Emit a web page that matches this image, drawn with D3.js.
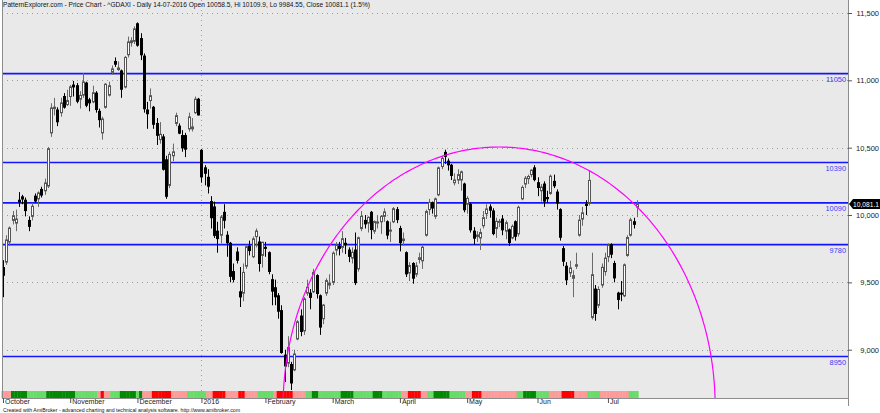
<!DOCTYPE html>
<html><head><meta charset="utf-8">
<script src="https://cdn.jsdelivr.net/npm/d3@7/dist/d3.min.js"></script>
<style>body{margin:0;background:#fff}svg{display:block;font-family:"Liberation Sans",Arial,sans-serif}</style>
</head><body><svg id="c" width="880" height="413"></svg>
<script>
// ---- data ----
const dates = [
"2015-10-02","2015-10-05","2015-10-06","2015-10-07","2015-10-08","2015-10-09","2015-10-12","2015-10-13","2015-10-14","2015-10-15","2015-10-16","2015-10-19","2015-10-20","2015-10-21","2015-10-22","2015-10-23","2015-10-26","2015-10-27","2015-10-28","2015-10-29","2015-10-30",
"2015-11-02","2015-11-03","2015-11-04","2015-11-05","2015-11-06","2015-11-09","2015-11-10","2015-11-11","2015-11-12","2015-11-13","2015-11-16","2015-11-17","2015-11-18","2015-11-19","2015-11-20","2015-11-23","2015-11-24","2015-11-25","2015-11-26","2015-11-27","2015-11-30",
"2015-12-01","2015-12-02","2015-12-03","2015-12-04","2015-12-07","2015-12-08","2015-12-09","2015-12-10","2015-12-11","2015-12-14","2015-12-15","2015-12-16","2015-12-17","2015-12-18","2015-12-21","2015-12-22","2015-12-23","2015-12-28","2015-12-29","2015-12-30",
"2016-01-04","2016-01-05","2016-01-06","2016-01-07","2016-01-08","2016-01-11","2016-01-12","2016-01-13","2016-01-14","2016-01-15","2016-01-18","2016-01-19","2016-01-20","2016-01-21","2016-01-22","2016-01-25","2016-01-26","2016-01-27","2016-01-28","2016-01-29",
"2016-02-01","2016-02-02","2016-02-03","2016-02-04","2016-02-05","2016-02-08","2016-02-09","2016-02-10","2016-02-11","2016-02-12","2016-02-15","2016-02-16","2016-02-17","2016-02-18","2016-02-19","2016-02-22","2016-02-23","2016-02-24","2016-02-25","2016-02-26","2016-02-29",
"2016-03-01","2016-03-02","2016-03-03","2016-03-04","2016-03-07","2016-03-08","2016-03-09","2016-03-10","2016-03-11","2016-03-14","2016-03-15","2016-03-16","2016-03-17","2016-03-18","2016-03-21","2016-03-22","2016-03-23","2016-03-24","2016-03-29","2016-03-30","2016-03-31",
"2016-04-01","2016-04-04","2016-04-05","2016-04-06","2016-04-07","2016-04-08","2016-04-11","2016-04-12","2016-04-13","2016-04-14","2016-04-15","2016-04-18","2016-04-19","2016-04-20","2016-04-21","2016-04-22","2016-04-25","2016-04-26","2016-04-27","2016-04-28","2016-04-29",
"2016-05-02","2016-05-03","2016-05-04","2016-05-05","2016-05-06","2016-05-09","2016-05-10","2016-05-11","2016-05-12","2016-05-13","2016-05-16","2016-05-17","2016-05-18","2016-05-19","2016-05-20","2016-05-23","2016-05-24","2016-05-25","2016-05-26","2016-05-27","2016-05-30","2016-05-31",
"2016-06-01","2016-06-02","2016-06-03","2016-06-06","2016-06-07","2016-06-08","2016-06-09","2016-06-10","2016-06-13","2016-06-14","2016-06-15","2016-06-16","2016-06-17","2016-06-20","2016-06-21","2016-06-22","2016-06-23","2016-06-24","2016-06-27","2016-06-28","2016-06-29","2016-06-30",
"2016-07-01","2016-07-04","2016-07-05","2016-07-06","2016-07-07","2016-07-08","2016-07-11","2016-07-12","2016-07-13","2016-07-14"];

const openP = [9610,9650,9800,9960,9940,10110,10135,10110,9960,9990,10140,10120,10190,10180,10215,10610,10790,10780,10760,10880,10820,
10880,10965,10960,10860,10890,10980,10855,10840,10905,10770,10610,10800,10890,11060,11140,11080,11070,10950,11190,11280,11290,
11420,11310,11180,10780,10850,10800,10680,10560,10580,10410,10220,10440,10680,10660,10590,10590,10640,10640,10760,10860,
10480,10350,10280,10100,10060,9880,9850,10020,9850,9790,9580,9725,9430,9420,9620,9770,9690,9840,9800,9700,
9760,9720,9520,9460,9400,9290,8960,8900,8890,8850,9080,9250,9140,9420,9420,9430,9550,9400,9230,9420,9480,
9500,9740,9770,9760,9790,9740,9680,9740,9600,9900,9960,9940,10020,9880,9940,9950,9990,9950,9880,9950,10040,
9900,9810,9720,9570,9640,9560,9670,9660,9850,10040,10090,9990,10150,10360,10465,10400,10370,10240,10260,10260,10230,
10080,10080,9880,9840,9830,9920,10010,10060,10030,9900,9945,9970,9880,9890,9830,9950,9860,10120,10230,10270,10300,10350,
10240,10180,10230,10130,10160,10250,10170,10040,9750,9620,9570,9530,9620,9850,9970,10080,10090,9240,9450,9330,9480,9580,
9690,9780,9640,9420,9420,9400,9700,9850,9950,10058.5];

const highP = [9665,9850,9915,10030,10040,10170,10150,10130,9990,10090,10160,10175,10210,10270,10505,10830,10870,10800,10870,10905,10930,
10965,10995,10980,10920,11055,10990,10870,10960,10920,10790,10730,10980,10990,11110,11170,11140,11080,11180,11325,11320,11400,
11430,11350,11200,10840,10940,10810,10720,10690,10600,10440,10470,10530,10760,10680,10630,10610,10760,10720,10880,10870,
10490,10370,10340,10140,10100,9950,10000,10080,9880,9800,9640,9760,9614,9640,9780,9810,9840,9900,9840,9800,
9800,9730,9560,9520,9420,9330,9000,9100,8910,9000,9220,9300,9390,9520,9450,9600,9560,9410,9340,9530,9560,
9730,9800,9800,9880,9830,9760,9760,9870,9840,10030,10000,9990,10030,9960,10000,10000,10050,9960,9950,10060,10060,
9920,9870,9730,9650,9650,9650,9720,9770,10040,10120,10100,10130,10360,10440,10485,10420,10380,10310,10340,10330,10240,
10140,10090,9910,9880,9900,10030,10080,10080,10050,9980,9970,10000,9960,9900,9930,9960,10070,10220,10290,10300,10340,10370,
10280,10230,10250,10180,10300,10300,10190,10050,9770,9650,9660,9590,9720,10000,10060,10110,10330,9720,9480,9470,9640,9720,
9790,9790,9660,9430,9510,9640,9850,9980,9980,10109.9];

const lowP = [9390,9630,9770,9930,9880,10060,10080,9990,9880,9960,10090,10060,10130,10150,10200,10580,10740,10660,10730,10790,10810,
10810,10880,10830,10790,10870,10800,10770,10830,10760,10650,10560,10790,10880,11040,11100,11070,10870,10940,11170,11250,11270,
11250,11150,10760,10640,10790,10640,10520,10530,10330,10120,10200,10400,10660,10600,10470,10430,10620,10620,10750,10740,
10240,10220,10160,9900,9830,9720,9790,9900,9690,9500,9500,9640,9317,9360,9600,9700,9680,9760,9580,9610,
9690,9560,9330,9330,9230,8970,8760,8870,8700,8840,9070,9100,9110,9400,9300,9420,9380,9110,9190,9400,9450,
9480,9700,9700,9720,9710,9650,9640,9480,9580,9880,9900,9870,9820,9860,9900,9860,9950,9820,9800,9940,9940,
9730,9770,9540,9510,9490,9540,9640,9600,9840,10000,10010,9970,10140,10340,10380,10330,10260,10220,10230,10180,10020,
10010,9870,9780,9800,9740,9900,9970,9980,9850,9830,9910,9850,9820,9770,9820,9810,9840,10110,10200,10230,10280,10250,
10140,10100,10060,10090,10150,10200,10040,9810,9620,9480,9540,9390,9600,9840,9920,10000,10070,9225,9215,9310,9460,9550,
9650,9680,9500,9300,9360,9390,9690,9840,9900,9984.55];

const closeP = [9553,9815,9903,9995,9970,10097,10119,10033,9916,10065,10104,10164,10148,10238,10492,10795,10801,10692,10832,10801,10850,
10951,10951,10845,10888,10988,10815,10833,10908,10783,10708,10713,10971,10960,11085,11120,11092,10934,11170,11285,11294,11382,
11261,11190,10789,10752,10886,10674,10592,10599,10340,10139,10450,10469,10738,10608,10498,10489,10728,10654,10860,10743,
10283,10310,10214,9980,9849,9825,9985,9961,9794,9545,9522,9664,9392,9574,9765,9736,9823,9881,9640,9798,
9758,9581,9435,9393,9286,8979,8879,9017,8753,8968,9207,9135,9377,9464,9388,9574,9417,9168,9331,9513,9495,
9717,9777,9752,9824,9779,9693,9723,9498,9831,9990,9934,9983,9892,9951,9949,9990,10023,9851,9888,10047,9966,
9795,9822,9563,9625,9531,9622,9683,9761,10026,10094,10052,10120,10350,10421,10436,10373,10294,10260,10300,10321,10039,
10123,9890,9828,9852,9870,9980,10045,10036,9862,9953,9953,9890,9943,9796,9916,9842,10057,10205,10273,10286,10333,10263,
10204,10208,10103,10121,10288,10217,10089,9835,9657,9519,9607,9550,9631,9962,10016,10071,10257,9557,9269,9447,9612,9680,
9776,9709,9533,9373,9419,9630,9833,9964,9931,10081.1];

// colour strip under the price (runs of [state, number of bars])
const stripRuns = [["lr",3],["dg",5],["lg",6],["dg",9],["lg",7],["lr",1],["r",1],["lr",2],["lg",3],["dg",5],
["lg",1],["dg",1],["lr",3],["r",6],["lr",5],["lg",6],["lr",2],["r",4],["lr",4],["r",2],
["lr",4],["lg",5],["lr",1],["r",5],["lr",4],["lg",2],["dg",2],["lg",7],["dg",4],["lg",6],
["dg",3],["lg",6],["lr",2],["r",4],["lr",2],["lg",2],["dg",5],["lg",5],["lr",2],["r",3],
["lr",11],["lg",2],["dg",4],["lg",4],["lr",4],["r",4],["lr",4],["lg",4],["lr",9],["lg",3]];

const levelLines = [11050, 10390, 10090, 9780, 8950];
const priceTicks = [9000, 9500, 10000, 10500, 11000, 11500];
const monthTicks = [["2015-10-02","October"],["2015-11-02","November"],["2015-12-01","December"],["2016-01-04","2016"],
["2016-02-01","February"],["2016-03-01","March"],["2016-04-01","April"],["2016-05-02","May"],["2016-06-01","Jun"],["2016-07-01","Jul"]];
const yearBreak = "2016-01-04";
// arc (ellipse) in data units: centre bar index, centre price, radius in bars, radius in points
const arcCenterBar = 155, arcCenterPrice = 8575, arcRadiusBars = 67.5, arcRadiusPts = 1930;
const totalSlots = 264;
const titleText = "PatternExplorer.com - Price Chart - ^GDAXI - Daily 14-07-2016 Open 10058.5, Hi 10109.9, Lo 9984.55, Close 10081.1 (1.5%)";
const footerText = "Created with AmiBroker - advanced charting and technical analysis software. http://www.amibroker.com";

// ---- drawing ----
const svg = d3.select("#c");
const L = 2, R = 848, T = 0, B = 398;
const x = d3.scaleLinear().domain([0, totalSlots]).range([3, 848]);
const y = d3.scaleLinear().domain([9000, 11500]).range([349.7, 13]);
const step = x(1) - x(0);
const stripColor = {lr:"#ff9a9a", r:"#ff0000", dg:"#008a00", lg:"#66dd66"};

svg.append("rect").attr("x",L).attr("y",T).attr("width",R-L).attr("height",B-T).attr("fill","#e9e9e9");
svg.append("defs").append("clipPath").attr("id","clip").append("rect")
  .attr("x",L).attr("y",T).attr("width",R-L).attr("height",B-T);

// grid
const grid = svg.append("g");
grid.selectAll("line.h").data(priceTicks).join("line")
  .attr("x1",L).attr("x2",R).attr("y1",d=>Math.round(y(d))+0.5).attr("y2",d=>Math.round(y(d))+0.5)
  .attr("stroke","#9a9a9a").attr("stroke-dasharray","1,4");
const yb = dates.indexOf(yearBreak);
grid.append("line").attr("x1",Math.round(x(yb))+0.5).attr("x2",Math.round(x(yb))+0.5).attr("y1",T).attr("y2",B)
  .attr("stroke","#9a9a9a").attr("stroke-dasharray","1,4");

// colour strip
const stripBars = [];
stripRuns.forEach(([s,n]) => { for (let k=0;k<n;k++) stripBars.push(s); });
svg.append("g").selectAll("rect").data(stripBars).join("rect")
  .attr("x",(d,i)=>x(i)-step/2).attr("width",step+0.3).attr("y",391).attr("height",B-391)
  .attr("fill",d=>stripColor[d]);

// level lines
const lv = svg.append("g");
lv.selectAll("line").data(levelLines).join("line")
  .attr("x1",L).attr("x2",R).attr("y1",d=>y(d)).attr("y2",d=>y(d))
  .attr("stroke","#1414ff").attr("stroke-width",1.6);
lv.selectAll("text").data(levelLines).join("text")
  .attr("x",R-2).attr("y",d=>y(d)+8.5).attr("text-anchor","end")
  .attr("font-size","7.4px").attr("fill","#3a3aff").text(d=>d);

// candles
const bars = d3.range(dates.length).map(i=>({i,o:openP[i],h:highP[i],l:lowP[i],c:closeP[i]}));
const cg = svg.append("g").attr("clip-path","url(#clip)");
const cand = cg.selectAll("g").data(bars).join("g");
cand.append("line")
  .attr("x1",d=>Math.round(x(d.i))+0.5).attr("x2",d=>Math.round(x(d.i))+0.5)
  .attr("y1",d=>y(d.h)).attr("y2",d=>y(d.l))
  .attr("stroke",d=>d.c>=d.o?"#6a6a6a":"#000").attr("stroke-width",1);
cand.append("rect")
  .attr("x",d=>Math.round(x(d.i))-0.5).attr("width",2)
  .attr("y",d=>y(Math.max(d.o,d.c))).attr("height",d=>Math.max(1,Math.abs(y(d.o)-y(d.c))))
  .attr("fill",d=>d.c>=d.o?"#fff":"#000").attr("stroke",d=>d.c>=d.o?"#555":"#000").attr("stroke-width",1);

// arc
const arcPts = d3.range(0,181).map(k=>{const t=Math.PI*k/180; return [arcCenterBar+arcRadiusBars*Math.cos(t), arcCenterPrice+arcRadiusPts*Math.sin(t)];});
cg.append("path").attr("d",d3.line().x(d=>x(d[0])).y(d=>y(d[1]))(arcPts))
  .attr("fill","none").attr("stroke","#ff00ff").attr("stroke-width",1.2);

// frame
svg.append("line").attr("x1",L+0.5).attr("x2",L+0.5).attr("y1",T).attr("y2",B).attr("stroke","#8c8c8c");
svg.append("line").attr("x1",L).attr("x2",R).attr("y1",B+0.5).attr("y2",B+0.5).attr("stroke","#8c8c8c");
svg.append("line").attr("x1",R+0.5).attr("x2",R+0.5).attr("y1",T).attr("y2",B+8).attr("stroke","#8c8c8c");

// right axis
const ya = svg.append("g").attr("transform",`translate(${R},0)`)
  .call(d3.axisRight(y).tickValues(priceTicks).tickSize(4).tickFormat(d3.format(",")));
ya.select(".domain").remove();
ya.selectAll(".tick line").attr("stroke","#555");
ya.selectAll(".tick text").attr("x",31).attr("text-anchor","end").attr("font-size","7.5px")
  .attr("fill","#222").attr("font-family","Liberation Sans, Arial, sans-serif");

// bottom axis
const mIdx = monthTicks.map(([d,lab])=>({i:dates.indexOf(d),lab}));
const xa = svg.append("g").attr("transform",`translate(0,${B})`)
  .call(d3.axisBottom(x).tickValues(mIdx.map(m=>m.i)).tickSize(5).tickFormat((d,k)=>mIdx[k].lab));
xa.select(".domain").remove();
xa.selectAll(".tick line").attr("stroke","#555");
xa.selectAll(".tick text").attr("x",1.5).attr("y",6.3).attr("dy",0).attr("text-anchor","start")
  .attr("font-size","7px").attr("fill","#222").attr("font-family","Liberation Sans, Arial, sans-serif");

// last price tag
const lastC = closeP[closeP.length-1], ly = y(lastC);
svg.append("path").attr("d",`M${R+1},${ly} L${R+5},${ly-5} L880,${ly-5} L880,${ly+5} L${R+5},${ly+5} Z`).attr("fill","#000");
svg.append("text").attr("x",R+5).attr("y",ly+2.5).attr("font-size","7px").attr("fill","#fff")
  .attr("textLength",26).attr("lengthAdjust","spacingAndGlyphs")
  .text(d3.format(",.1f")(lastC));

// title & footer
svg.append("text").attr("x",3).attr("y",7).attr("font-size","7.6px").attr("fill","#111")
  .attr("textLength",367).attr("lengthAdjust","spacingAndGlyphs").text(titleText);
svg.append("text").attr("x",3).attr("y",412).attr("font-size","5.6px").attr("fill","#111")
  .attr("textLength",237).attr("lengthAdjust","spacingAndGlyphs").text(footerText);
</script></body></html>
